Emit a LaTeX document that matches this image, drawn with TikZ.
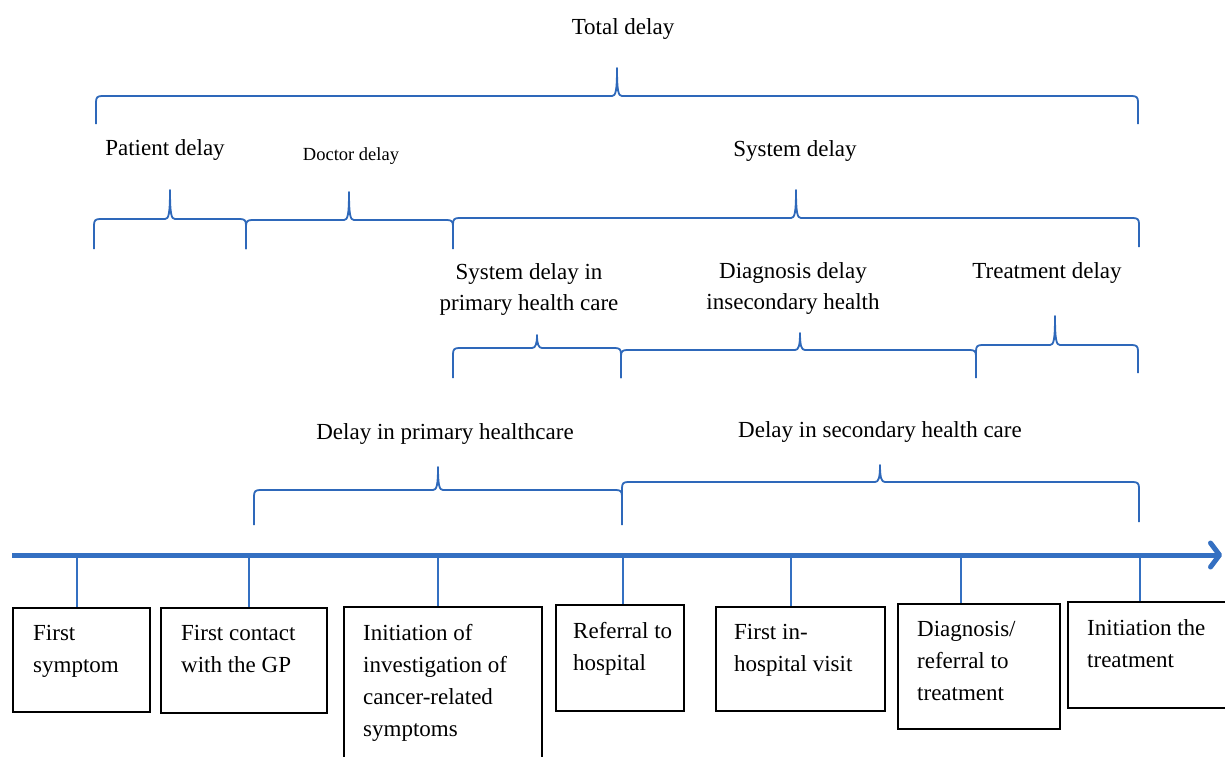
\documentclass[tikz,border=0pt]{standalone}
\usepackage{fontspec}
\setmainfont{Liberation Serif}
\usetikzlibrary{arrows.meta,calc}
\definecolor{brblue}{RGB}{46,104,186}
\definecolor{tlblue}{RGB}{52,112,194}
% x1 x2 xm yt yp yb
\newcommand{\mybrace}[6]{%
  \draw[brc] (#1,#6) -- (#1,#4+6) .. controls (#1,#4+1.5) and (#1+1.5,#4) .. (#1+6,#4)
    -- (#3-5,#4) .. controls (#3-1.5,#4) and (#3,#4-4) .. (#3,#5)
    .. controls (#3,#4-4) and (#3+1.5,#4) .. (#3+5,#4)
    -- (#2-6,#4) .. controls (#2-1.5,#4) and (#2,#4+1.5) .. (#2,#4+6) -- (#2,#6);}
\begin{document}
\begin{tikzpicture}[x=1pt,y=-1pt,
  brc/.style={draw=brblue, line width=1.8pt, line join=round},
  lbl/.style={font=\fontsize{23}{31}\selectfont, inner sep=0pt, align=center},
  small/.style={font=\fontsize{18.5}{22}\selectfont, inner sep=0pt},
  evbox/.style={draw=black, line width=1.6pt, anchor=north west, inner sep=0pt},
  evtxt/.style={font=\fontsize{23}{32}\selectfont, inner sep=0pt, anchor=north west, align=left},
  tick/.style={draw=tlblue, line width=2pt}]
\useasboundingbox (0,0) rectangle (1225,756);
\fill[white] (0,0) rectangle (1225,756);

% braces
\mybrace{96}{1138}{617}{96}{68}{124}
\mybrace{94}{246}{170}{219}{190}{249}
\mybrace{246}{453}{349}{220}{192}{249}
\mybrace{453}{1139}{796}{218}{190}{247}
\mybrace{453}{621}{537}{348}{335}{378}
\mybrace{621}{976}{800}{350}{333}{378}
\mybrace{976}{1138}{1055}{345}{316}{373}
\mybrace{254}{622}{438}{490}{467}{525}
\mybrace{622}{1139}{880}{482}{465}{522}

% labels
\node[lbl] (ltotal) at (623,29) {Total delay};
\node[lbl] (lpat) at (165,150) {Patient delay};
\node[small] (ldoc) at (351,156) {Doctor delay};
\node[lbl] (lsys) at (795,151) {System delay};
\node[lbl] (lsysp) at (529,289) {System delay in\\primary health care};
\node[lbl] (ldiag) at (793,288) {Diagnosis delay\\insecondary health};
\node[lbl] (ltreat) at (1047,273) {Treatment delay};
\node[lbl] (lprim) at (445,434) {Delay in primary healthcare};
\node[lbl] (lsec) at (880,432) {Delay in secondary health care};

% boxes
\node[evbox, minimum width=137pt, minimum height=104pt] (b1) at (12,607) {};
\node[evbox, minimum width=166pt, minimum height=105pt] (b2) at (160,607) {};
\node[evbox, minimum width=198pt, minimum height=156pt] (b3) at (343,606) {};
\node[evbox, minimum width=128pt, minimum height=106pt] (b4) at (555,604) {};
\node[evbox, minimum width=169pt, minimum height=104pt] (b5) at (715,606) {};
\node[evbox, minimum width=162pt, minimum height=125pt] (b6) at (897,603) {};
\node[evbox, minimum width=161pt, minimum height=106pt] (b7) at (1067,601) {};

\node[evtxt] (x1) at ($(b1.north west)+(21,18)$) {First\\symptom};
\node[evtxt] (x2) at ($(b2.north west)+(21,18)$) {First contact\\with the GP};
\node[evtxt] (x3) at ($(b3.north west)+(20,18)$) {Initiation of\\investigation of\\cancer-related\\symptoms};
\node[evtxt] (x4) at ($(b4.north west)+(18,18)$) {Referral to\\hospital};
\node[evtxt] (x5) at ($(b5.north west)+(19,18)$) {First in-\\hospital visit};
\node[evtxt] (x6) at ($(b6.north west)+(20,18)$) {Diagnosis/\\referral to\\treatment};
\node[evtxt] (x7) at ($(b7.north west)+(20,18)$) {Initiation the\\treatment};

% timeline
\coordinate (ts) at (12,555);
\coordinate (te) at (1222,555);
\draw[draw=tlblue, line width=5pt, -{Straight Barb[length=9pt,width=24pt,round]}] (ts) -- (te);
\coordinate (t1) at (77,555);
\coordinate (t2) at (249,555);
\coordinate (t3) at (438,555);
\coordinate (t4) at (623,555);
\coordinate (t5) at (791,555);
\coordinate (t6) at (961,555);
\coordinate (t7) at (1140,555);
\draw[tick] (t1) -- (t1 |- b1.north);
\draw[tick] (t2) -- (t2 |- b2.north);
\draw[tick] (t3) -- (t3 |- b3.north);
\draw[tick] (t4) -- (t4 |- b4.north);
\draw[tick] (t5) -- (t5 |- b5.north);
\draw[tick] (t6) -- (t6 |- b6.north);
\draw[tick] (t7) -- (t7 |- b7.north);
\end{tikzpicture}
\end{document}
